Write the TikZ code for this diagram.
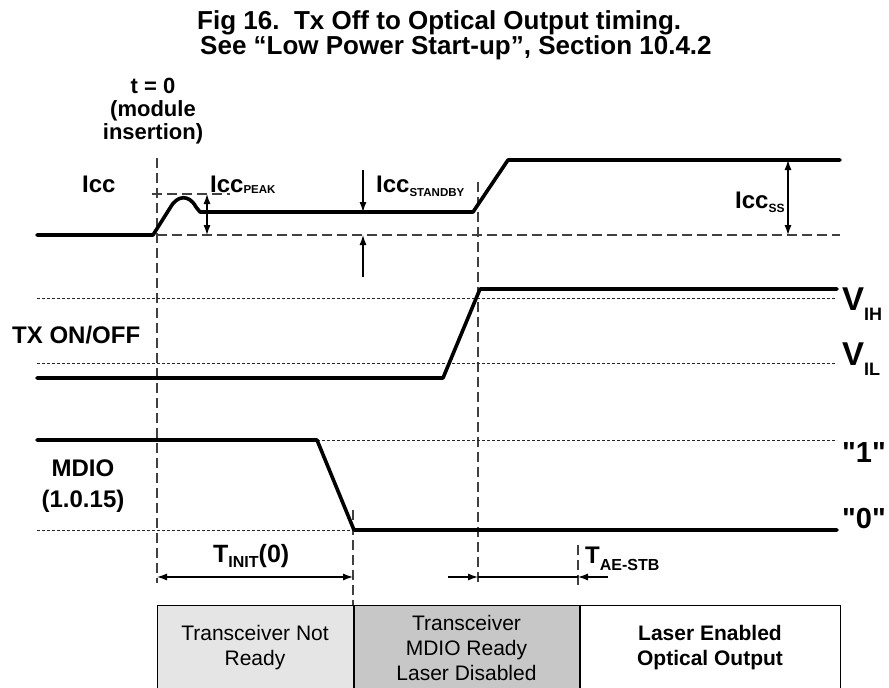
\documentclass[tikz,border=0pt]{standalone}
\usepackage{fontspec}
\setmainfont{Liberation Sans}
\newfontfamily\qfont{Liberation Sans}[Ligatures=TeXOff]
\usepackage{tikz}
\usetikzlibrary{positioning,arrows.meta,calc}
\usepackage{xcolor}

\newcommand{\fs}[1]{\fontsize{#1}{#1}\selectfont}

\begin{document}
\begin{tikzpicture}[x=1pt,y=-1pt,>={Latex[length=10pt,width=7pt]},
  every node/.style={inner sep=0pt,font=\bfseries\fs{24}},
  sig/.style={line width=3.6pt,line cap=round,line join=round},
  guide/.style={line width=1.3pt,black!75,dash pattern=on 10pt off 5pt},
  lvl/.style={line width=0.9pt,black!85,dash pattern=on 3pt off 2pt},
  dim/.style={line width=1.2pt},
  phase/.style={draw=black,line width=1pt,minimum height=85pt,font=\mdseries\fontsize{21}{25}\selectfont,align=center}]
\useasboundingbox (0,0) rectangle (889,688);

\node[anchor=north west,align=left,font=\bfseries\fontsize{26}{23.5}\selectfont] (title) at (197,10.5) {Fig 16.\ \ Tx Off to Optical Output timing.\\\hspace*{3pt}See “Low Power Start-up”, Section 10.4.2};
\node[anchor=north,align=center,font=\bfseries\fontsize{22}{23}\selectfont] (tzero) at (153,78) {t = 0\\(module\\insertion)};

% guides
\draw[guide] (157,158) -- (157,583);
\draw[guide] (478,182) -- (478,583);
\draw[guide] (353,510) -- (353,605);
\draw[guide] (578,545) -- (578,587);
\draw[guide] (152,194) -- (230,194);
\draw[guide] (157,235) -- (840,235);

\draw[lvl] (37,298) -- (837,298);
\draw[lvl] (37,363) -- (837,363);
\draw[lvl] (317,440) -- (837,440);
\draw[lvl] (37,530) -- (354,530);

% Icc
\node[anchor=base west] (icc) at (82,192) {Icc};
\draw[sig] (37,235) -- (153,235) -- (170,208) .. controls (177,195) and (189,194) .. (196,207) -- (200,212) -- (473,212) -- (508,160) -- (840,160);
\node[anchor=base west] (iccpeak) at (210,192) {Icc\raisebox{-1pt}{\fs{11.5}PEAK}};
\node[anchor=base west] (iccstby) at (376,192) {Icc\raisebox{-4pt}{\fs{11.5}STANDBY}};
\node[anchor=base west] (iccss) at (735,208) {Icc\raisebox{-4pt}{\fs{12}SS}};
\coordinate (pk1) at (207,194);
\coordinate (pk2) at (207,235);
\draw[dim,<->] (pk1) -- (pk2);
\coordinate (sb0) at (363,170);
\coordinate (sb1) at (363,212);
\coordinate (sb2) at (363,235);
\coordinate (sb3) at (363,277);
\draw[dim,->] (sb0) -- (sb1);
\draw[dim,->] (sb3) -- (sb2);
\coordinate (ss1) at (788,160);
\coordinate (ss2) at (788,235);
\draw[dim,<->] (ss1) -- (ss2);

% TX ON/OFF
\node[anchor=base west] (tx) at (12,343) {TX ON/OFF};
\draw[sig] (37,378) -- (443,378) -- (480,289) -- (837,289);
\node[anchor=base west,font=\bfseries\fs{33}] (vih) at (842,310) {V\raisebox{-10pt}{\fs{18}IH}};
\node[anchor=base west,font=\bfseries\fs{33}] (vil) at (842,365) {V\raisebox{-10pt}{\fs{18}IL}};

% MDIO
\node[anchor=north,align=center,font=\bfseries\fontsize{24}{31}\selectfont] (mdio) at (83,460) {MDIO\\(1.0.15)};
\draw[sig] (37,440) -- (317,440) -- (354,530) -- (837,530);
\node[anchor=base west,font=\qfont\bfseries\fs{29}] (one) at (842,462) {"1"};
\node[anchor=base west,font=\qfont\bfseries\fs{29}] (zero) at (842,528) {"0"};

% timing
\coordinate (ti1) at (157,577);
\coordinate (ti2) at (353,577);
\draw[dim,<->] (ti1) -- (ti2);
\node[anchor=base west,font=\bfseries\fs{25}] (tinit) at (213,562) {T\raisebox{-5pt}{\fs{16}INIT}(0)};
\coordinate (ae0) at (448,577);
\coordinate (ae1) at (478,577);
\coordinate (ae2) at (578,577);
\coordinate (ae3) at (608,577);
\draw[dim,->] (ae0) -- (ae1);
\draw[dim] (ae1) -- (ae2);
\draw[dim,->] (ae3) -- (ae2);
\node[anchor=base west] (taestb) at (585,563) {T\raisebox{-7pt}{\fs{16}AE-STB}};

% phases
\node[phase,fill=black!10,minimum width=196pt] (notready) at (255,647.5) {Transceiver Not\\Ready};
\node[phase,fill=black!22,minimum width=225pt,right=0pt of notready] (mdready) {Transceiver\\MDIO Ready\\Laser Disabled};
\node[phase,fill=white,minimum width=260pt,right=0pt of mdready,font=\bfseries\fontsize{21}{25}\selectfont] (enabled) {Laser Enabled\\Optical Output};
\end{tikzpicture}
\end{document}
